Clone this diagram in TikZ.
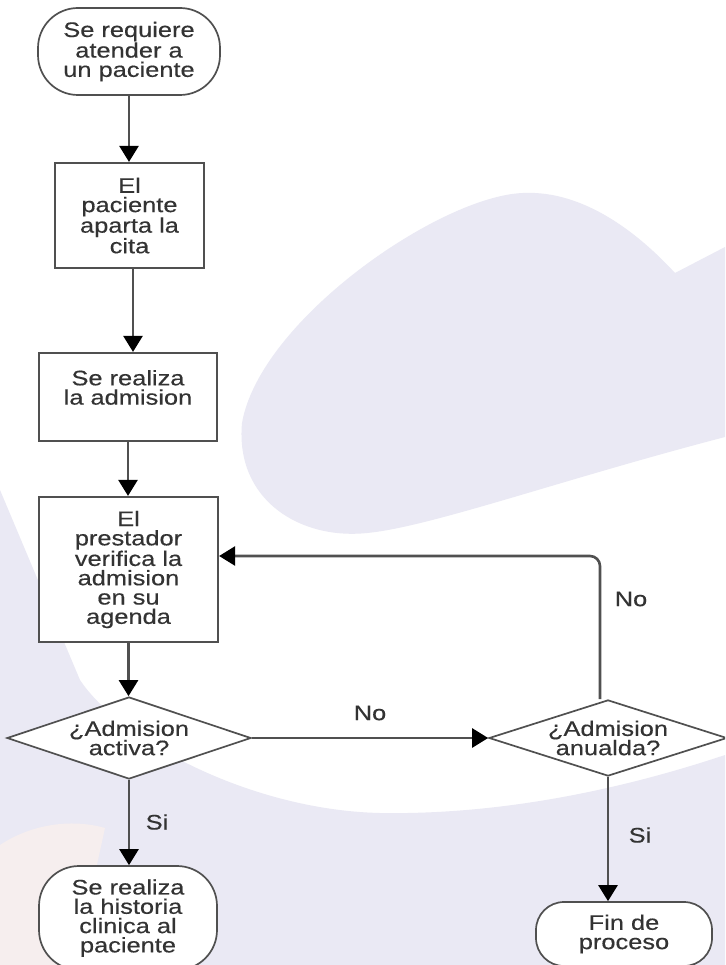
\documentclass[tikz,border=0pt]{standalone}
\usepackage{fontspec}
\setmainfont{Liberation Sans}[FakeStretch=1.21,FakeBold=0.4]
\usetikzlibrary{shapes.geometric,arrows.meta,calc}
\definecolor{lav}{HTML}{EAE9F4}
\definecolor{peach}{HTML}{F6EEEE}
\definecolor{edge}{HTML}{505050}
\definecolor{txt}{HTML}{333333}
\begin{document}
\begin{tikzpicture}[x=1pt,y=-1pt,
  every node/.style={font=\fontsize{21}{19.3}\selectfont, text=txt, align=center, inner sep=0pt},
  term/.style={draw=edge, line width=1.7pt, fill=white, rounded corners=#1},
  term/.default=40pt,
  proc/.style={draw=edge, line width=2.2pt, fill=white},
  dec/.style={draw=edge, line width=1.7pt, fill=white, shape=diamond, shape aspect=2.9},
  conn/.style={draw=edge, line width=2.6pt, -{Triangle[length=16pt,width=19pt,color=black]}},
  lbl/.style={fill=none}]
\useasboundingbox (0,0) rectangle (725,965);
\clip (0,0) rectangle (725,965);
\fill[white] (0,0) rectangle (725,965);
% watermark
\fill[lav] (725,247) -- (675,273) .. controls (640,235) and (585,190) .. (523,193)
  .. controls (440,196) and (260,320) .. (242,423)
  .. controls (235,500) and (300,540) .. (367,533)
  .. controls (430,527) and (560,480) .. (725,437) -- cycle;
\fill[lav] (0,490) -- (80,680) .. controls (120,740) and (250,810) .. (380,813)
  .. controls (500,815) and (620,790) .. (725,755) -- (725,965) -- (0,965) -- cycle;
\fill[peach] (0,845) .. controls (30,825) and (70,818) .. (105,828) -- (75,965) -- (0,965) -- cycle;
% nodes
\node[term, minimum width=182pt, minimum height=87pt] (start) at (129,51.5) {Se requiere\\atender a\\un paciente};
\node[proc, minimum width=149pt, minimum height=105pt] (b1) at (129.5,215.5) {El\\paciente\\aparta la\\cita};
\node[proc, minimum width=178pt, minimum height=88pt] (b2) at (128,397) {Se realiza\\la admision\\~};
\node[proc, minimum width=179pt, minimum height=145pt] (b3) at (128.5,569.5) {El\\prestador\\verifica la\\admision\\en su\\agenda};
\node[dec, minimum width=244pt, minimum height=82pt] (d1) at (129,738) {¿Admision\\activa?};
\node[dec, minimum width=238pt, minimum height=76pt] (d2) at (608,738) {¿Admision\\anualda?};
\node[term, minimum width=178pt, minimum height=104pt] (t1) at (128,918) {Se realiza\\la historia\\clinica al\\paciente};
\node[term=28pt, minimum width=176pt, minimum height=64pt] (t2) at (624,934) {Fin de\\proceso};
% connectors
\draw[conn] (start.south) -- (start.south |- b1.north);
\draw[conn] ([xshift=3.5pt]b1.south) -- ([xshift=3.5pt]b1.south |- b2.north);
\draw[conn] (b2.south) -- (b2.south |- b3.north);
\draw[conn] (b3.south) -- (b3.south |- d1.north);
\draw[conn] (d1.east) -- (d2.west);
\draw[conn] (d1.south) -- (d1.south |- t1.north);
\draw[conn] (d2.south) -- (d2.south |- t2.north);
\draw[conn, rounded corners=10pt] ([xshift=-8pt]d2.north) |- ([yshift=13.5pt]b3.east);
% labels
\node[lbl] (no1) at (370,713) {No};
\node[lbl] (no2) at (631,599) {No};
\node[lbl] (si1) at (157,822) {Si};
\node[lbl] (si2) at (640,835) {Si};
\end{tikzpicture}
\end{document}
